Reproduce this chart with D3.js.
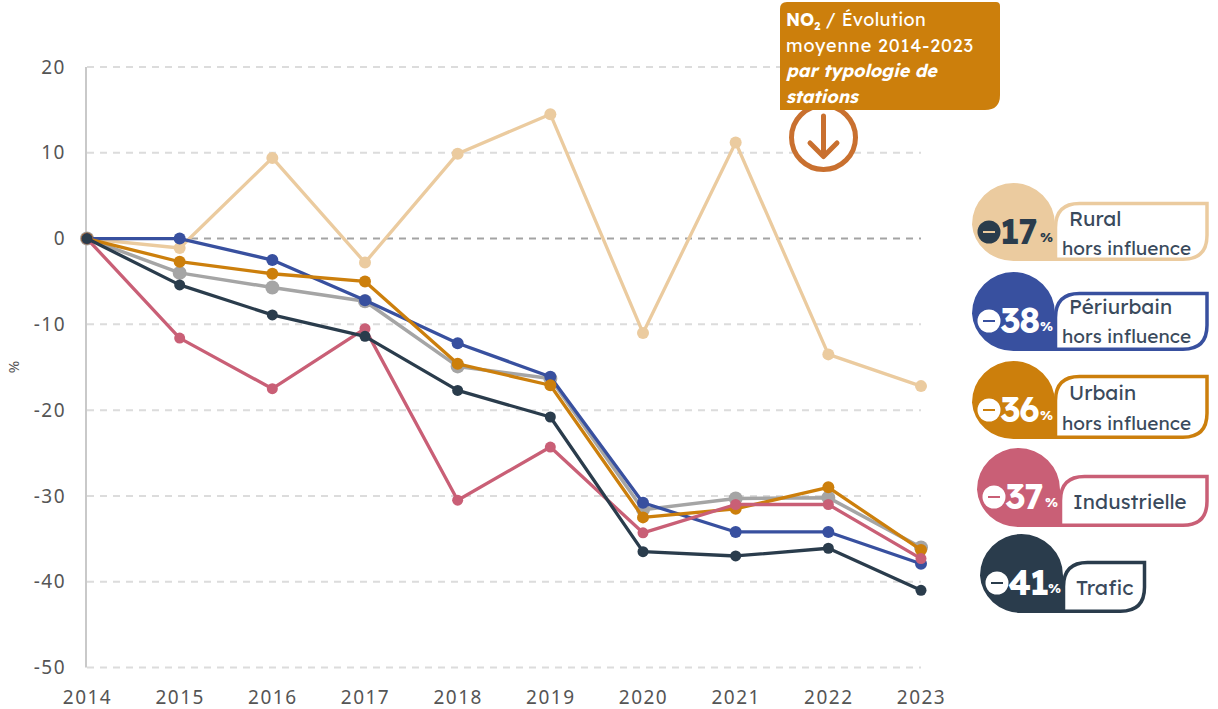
<!DOCTYPE html>
<html><head><meta charset="utf-8">
<script src="https://cdnjs.cloudflare.com/ajax/libs/d3/7.8.5/d3.min.js"></script>
<style>
html,body{margin:0;padding:0;background:#fff}
svg{display:block}
.ax text{font-family:"Noto Sans",sans-serif;font-size:19px;fill:#555;letter-spacing:1.5px}
.ui{font-family:Lexend,"Noto Sans",Lato,sans-serif}
</style></head><body>
<svg id="c" width="1218" height="709"></svg>
<script>
const years=[2014,2015,2016,2017,2018,2019,2020,2021,2022,2023];
const yTicks=[20,10,0,-10,-20,-30,-40,-50];
const rural=[0,-1.1,9.4,-2.8,9.9,14.5,-11,11.2,-13.5,-17.2];
const grey=[0,-4,-5.7,-7.3,-14.9,-16.3,-31.6,-30.3,-30.2,-36];
const periurbain=[0,0,-2.5,-7.2,-12.2,-16.1,-30.8,-34.2,-34.2,-37.9];
const urbain=[0,-2.7,-4.1,-5,-14.6,-17.1,-32.5,-31.5,-29,-36.3];
const industrielle=[0,-11.6,-17.5,-10.5,-30.5,-24.3,-34.3,-31,-31,-37.3];
const trafic=[0,-5.4,-8.9,-11.4,-17.7,-20.8,-36.5,-37,-36.1,-41];
const legendValues=[17,38,36,37,41];
const legendLine1=["Rural","Périurbain","Urbain","Industrielle","Trafic"];
const legendLine2=["hors influence","hors influence","hors influence","",""];

const colors={rural:"#ebcb9f",grey:"#a5a5a5",peri:"#38509f",urb:"#cc7f0c",ind:"#c95f76",tra:"#2a3c4c"};
const series=[
 {v:rural,c:colors.rural,r:6,w:3.3},{v:grey,c:colors.grey,r:7,w:3.5},{v:periurbain,c:colors.peri,r:6,w:3.3},
 {v:urbain,c:colors.urb,r:6,w:3.3},{v:industrielle,c:colors.ind,r:5.5,w:3.3},{v:trafic,c:colors.tra,r:5.5,w:3.3}];
const legendStyle=[
 {c:colors.rural,ink:colors.tra,minus:colors.tra,minusInk:colors.rural,bl:972,br:1055,bt:183,bb:261,top:203.5,right:1207,y1:226,y2:255},
 {c:colors.peri,ink:"#fff",minus:"#fff",minusInk:colors.peri,bl:972,br:1055,bt:272,bb:351,top:293.5,right:1207,y1:314,y2:343},
 {c:colors.urb,ink:"#fff",minus:"#fff",minusInk:colors.urb,bl:972,br:1055,bt:361,bb:439,top:376.5,right:1207,y1:400,y2:430},
 {c:colors.ind,ink:"#fff",minus:"#fff",minusInk:colors.ind,bl:977,br:1060,bt:448,bb:527,top:476.5,right:1207,y1:509,y2:0},
 {c:colors.tra,ink:"#fff",minus:"#fff",minusInk:colors.tra,bl:980,br:1063,bt:534,bb:613,top:562.5,right:1144.5,y1:595,y2:0}];

const svg=d3.select("#c");
const x=d3.scalePoint().domain(years).range([87,921]);
const y=d3.scaleLinear().domain([-50,20]).range([667.5,67]);

// grid
const grid=svg.append("g");
grid.selectAll("line").data(yTicks.filter(d=>d!==0)).join("line")
 .attr("x1",87).attr("x2",921).attr("y1",d=>y(d)).attr("y2",d=>y(d))
 .attr("stroke","#dcdcdc").attr("stroke-width",2).attr("stroke-dasharray","7 6");
svg.append("line").attr("x1",87).attr("x2",921).attr("y1",y(0)).attr("y2",y(0))
 .attr("stroke","#a3a3a3").attr("stroke-width",2).attr("stroke-dasharray","7 6");
svg.append("line").attr("x1",86).attr("x2",86).attr("y1",y(20)).attr("y2",y(-50))
 .attr("stroke","#c9c9c9").attr("stroke-width",2);

// axes
const ya=svg.append("g").attr("class","ax").attr("transform","translate(66,0)")
 .call(d3.axisLeft(y).tickValues(yTicks).tickSize(0).tickPadding(0).tickFormat(d=>String(d)));
ya.select(".domain").remove();
const xa=svg.append("g").attr("class","ax").attr("transform","translate(0,690)")
 .call(d3.axisBottom(x).tickSize(0).tickPadding(0).tickFormat(d=>String(d)));
xa.select(".domain").remove();
svg.append("text").attr("transform","translate(19,367) rotate(-90)").attr("text-anchor","middle")
 .attr("font-family","Noto Sans").attr("font-size",15).attr("fill","#555").text("%");

// lines
const line=d3.line().x((d,i)=>x(years[i])).y(d=>y(d));
series.forEach(s=>{
 svg.append("path").attr("d",line(s.v)).attr("fill","none").attr("stroke",s.c).attr("stroke-width",s.w).attr("stroke-linejoin","round");
 svg.append("g").selectAll("circle").data(s.v).join("circle")
  .attr("cx",(d,i)=>x(years[i])).attr("cy",d=>y(d)).attr("r",s.r).attr("fill",s.c);
});

// annotation
svg.append("circle").attr("cx",823.5).attr("cy",137.5).attr("r",32).attr("fill","#fff").attr("stroke","#c9702f").attr("stroke-width",5);
svg.append("path").attr("d","M823.5 116V156M810 143L823.5 156.5L837 143").attr("fill","none")
 .attr("stroke","#c9702f").attr("stroke-width",5).attr("stroke-linecap","round").attr("stroke-linejoin","round");
svg.append("path").attr("d","M787 2H996Q1000 2 1000 6V95Q1000 110 985 110H780V9Q780 2 787 2Z").attr("fill",colors.urb);
const ann=svg.append("text").attr("class","ui").attr("fill","#fff").attr("font-size",18).attr("x",786);
const t1=ann.append("tspan").attr("x",786).attr("y",26);
t1.append("tspan").attr("font-weight",700).attr("font-size",17.5).text("NO");
t1.append("tspan").attr("font-weight",700).attr("font-size",11).attr("dy",4).text("2");
t1.append("tspan").attr("dy",-4).attr("letter-spacing",0.4).text(" / Évolution");
ann.append("tspan").attr("x",786).attr("y",52).attr("letter-spacing",0.85).text("moyenne 2014-2023");
ann.append("tspan").attr("x",786).attr("y",77).attr("font-weight",700).attr("font-style","italic").attr("font-size",17.8).text("par typologie de");
ann.append("tspan").attr("x",786).attr("y",103).attr("font-weight",700).attr("font-style","italic").attr("font-size",17.8).text("stations");

// legend
const leg=svg.append("g").selectAll("g").data(legendValues).join("g");
leg.each(function(val,i){
 const g=d3.select(this), s=legendStyle[i];
 const cx=(s.bl+s.br)/2, R=(s.br-s.bl)/2, bb=s.bb;
 const bx=s.br+0.5, by=bb-1.75;
 g.append("path").attr("d",`M${bx} ${by}V${s.top+24}Q${bx} ${s.top} ${bx+24} ${s.top}H${s.right}V${by-24}Q${s.right} ${by} ${s.right-24} ${by}Z`)
  .attr("fill","#fff").attr("stroke",s.c).attr("stroke-width",3.5);
 g.append("path").attr("d",`M${s.bl} ${s.bt+R}A${R} ${R} 0 0 1 ${s.br} ${s.bt+R}V${bb}H${cx}A${R} ${(bb-s.bt)/2} 0 0 1 ${s.bl} ${s.bt+R}Z`).attr("fill",s.c);
 const my=s.bt+49;
 const mx=s.bl+17;
 g.append("circle").attr("cx",mx).attr("cy",my).attr("r",11.5).attr("fill",s.minus);
 g.append("line").attr("x1",mx-6).attr("x2",mx+6).attr("y1",my).attr("y2",my).attr("stroke",s.minusInk).attr("stroke-width",2);
 g.append("text").attr("class","ui").attr("x",mx+11).attr("y",my+12).attr("font-size",35).attr("font-weight",700)
  .attr("letter-spacing",-1.5).attr("fill",s.ink).text(val);
 g.append("text").attr("class","ui").attr("x",s.br-15).attr("y",my+10).attr("font-size",13.5).attr("font-weight",700).attr("fill",s.ink).text("%");
 const two=legendLine2[i]!=="";
 g.append("text").attr("class","ui").attr("x",two?s.br+14:s.br+13).attr("y",s.y1)
  .attr("font-size",i===4?21:20.5).attr("fill","#3a4a5c").text(legendLine1[i]);
 if(two) g.append("text").attr("class","ui").attr("x",s.br+7).attr("y",s.y2).attr("font-size",19).attr("fill","#3a4a5c").text(legendLine2[i]);
});
</script></body></html>
